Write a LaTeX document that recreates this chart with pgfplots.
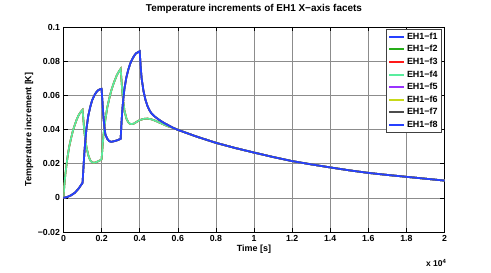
\documentclass[border=0pt]{standalone}
\usepackage{fontspec}
\setmainfont{Liberation Sans}
\usepackage{pgfplots}
\pgfplotsset{compat=1.18}
\definecolor{lineBlue}{rgb}{0.15,0.25,1}
\definecolor{lineGreen}{rgb}{0.15,0.68,0.1}
\definecolor{lineRed}{rgb}{1,0.1,0.1}
\definecolor{lineAqua}{rgb}{0.35,0.93,0.62}
\definecolor{linePurple}{rgb}{0.6,0.2,1}
\definecolor{lineYellow}{rgb}{0.78,0.85,0.1}
\definecolor{lineGray}{rgb}{0.3,0.3,0.3}
\pgfplotstableread{
t T
0 0
200 0.0005
400 0.0015
600 0.003
800 0.0055
1000 0.0088
1050 0.018
1100 0.027
1150 0.034
1200 0.040
1300 0.048
1400 0.053
1500 0.057
1600 0.0595
1700 0.0615
1800 0.0628
1900 0.0635
2000 0.0638
2050 0.055
2100 0.047
2150 0.041
2200 0.037
2300 0.0345
2400 0.0332
2500 0.0328
2600 0.0330
2800 0.0336
3000 0.0345
3050 0.045
3100 0.053
3150 0.059
3200 0.064
3300 0.0705
3400 0.075
3500 0.0785
3600 0.081
3700 0.083
3800 0.0845
3900 0.0852
4000 0.0858
4050 0.077
4100 0.0700
4200 0.0625
4300 0.0575
4400 0.0540
4500 0.0515
4600 0.0497
4700 0.0485
4800 0.0475
5000 0.0458
5250 0.0440
5500 0.0425
5750 0.0410
6000 0.0398
7000 0.0358
8000 0.0322
9000 0.0292
10000 0.0265
11000 0.0239
12000 0.0215
13000 0.0196
14000 0.0178
15000 0.0161
16000 0.0146
17000 0.0134
18000 0.0123
19000 0.0112
20000 0.0101
}\tabA
\pgfplotstableread{
t T
0 0
50 0.008
100 0.014
200 0.023
300 0.030
400 0.035
500 0.0395
600 0.043
700 0.046
800 0.0485
900 0.0502
1000 0.0515
1050 0.045
1100 0.038
1200 0.030
1300 0.025
1400 0.022
1500 0.0208
1600 0.0205
1700 0.0208
1800 0.0213
1900 0.0218
2000 0.0225
2050 0.030
2100 0.037
2200 0.046
2300 0.053
2400 0.058
2500 0.0625
2600 0.066
2700 0.069
2800 0.0718
2900 0.0738
3000 0.0755
3050 0.068
3100 0.060
3200 0.051
3300 0.0465
3400 0.0442
3500 0.0433
3600 0.0432
3700 0.0435
3800 0.0442
4000 0.0455
4200 0.0462
4400 0.0464
4600 0.0460
4800 0.0452
5000 0.0442
5250 0.0430
5500 0.0418
5750 0.0410
6000 0.0398
7000 0.0358
8000 0.0322
9000 0.0292
10000 0.0265
11000 0.0239
12000 0.0215
13000 0.0196
14000 0.0178
15000 0.0161
16000 0.0146
17000 0.0134
18000 0.0123
19000 0.0112
20000 0.0101
}\tabB
\begin{document}
\begin{tikzpicture}
\useasboundingbox (-63.5bp,-41bp) rectangle (427.5bp,232bp);
\begin{axis}[
  at={(0,0)}, anchor=south west,
  scale only axis, width=381bp, height=205bp,
  xmin=0, xmax=20000, ymin=-0.02, ymax=0.1,
  xtick={0,2000,4000,6000,8000,10000,12000,14000,16000,18000,20000},
  xticklabels={0,0.2,0.4,0.6,0.8,1,1.2,1.4,1.6,1.8,2},
  ytick={-0.02,0,0.02,0.04,0.06,0.08,0.1},
  yticklabels={−0.02,0,0.02,0.04,0.06,0.08,0.1},
  scaled x ticks=false,
  grid=major,
  major grid style={draw=black!45, line width=0.6pt},
  axis line style={line width=0.6pt},
  tick style={black, line width=0.5pt},
  ticklabel style={font=\fontsize{8.8}{10}\selectfont\bfseries},
  title={Temperature increments of EH1 X−axis facets},
  title style={font=\fontsize{10}{12}\selectfont\bfseries, at={(axis description cs:0.5,1.058)}, anchor=center},
  xlabel={Time [s]},
  xlabel style={font=\fontsize{9}{11}\selectfont\bfseries, at={(axis description cs:0.5,-0.083)}, anchor=center},
  ylabel={Temperature increment [K]},
  ylabel style={font=\fontsize{9}{11}\selectfont\bfseries, at={(axis description cs:-0.0906,0.5)}, anchor=center},
  legend style={font=\fontsize{9}{10}\selectfont\bfseries, at={(axis description cs:0.992,0.99)}, anchor=north east, inner sep=1.5pt, row sep=0.6pt, draw=black!75, line width=0.6pt},
  legend cell align=left,
  legend image code/.code={\draw[line width=2pt, line cap=butt, #1] (0bp,0bp) -- (15bp,0bp);},
]
\addplot[color=lineBlue, line width=1.7pt] table[x=t,y=T] {\tabA};
\addlegendentry{EH1−f1}
\addplot[color=lineGreen, line width=1.7pt] table[x=t,y=T] {\tabB};
\addlegendentry{EH1−f2}
\addplot[color=lineRed, line width=1.7pt] table[x=t,y=T] {\tabB};
\addlegendentry{EH1−f3}
\addplot[color=lineAqua, line width=1.7pt] table[x=t,y=T] {\tabB};
\addlegendentry{EH1−f4}
\addplot[color=linePurple, line width=1.7pt] table[x=t,y=T] {\tabA};
\addlegendentry{EH1−f5}
\addplot[color=lineYellow, line width=1.7pt] table[x=t,y=T] {\tabA};
\addlegendentry{EH1−f6}
\addplot[color=lineGray, line width=1.7pt] table[x=t,y=T] {\tabA};
\addlegendentry{EH1−f7}
\addplot[color=lineBlue, line width=1.7pt] table[x=t,y=T] {\tabA};
\addlegendentry{EH1−f8}
\end{axis}
\node[anchor=base east, font=\fontsize{8.5}{10}\selectfont\bfseries, inner sep=0pt] at (383bp,-34bp) {x 10\textsuperscript{4}};
\end{tikzpicture}
\end{document}
